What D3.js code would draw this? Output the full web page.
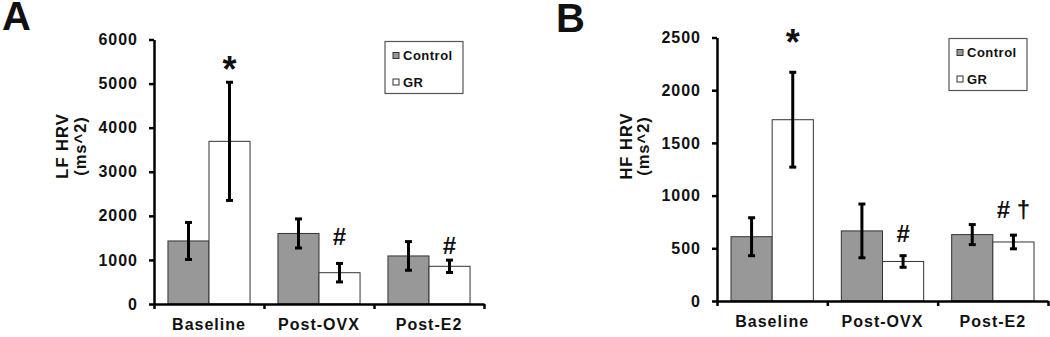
<!DOCTYPE html>
<html>
<head>
<meta charset="utf-8">
<script src="https://cdnjs.cloudflare.com/ajax/libs/d3/7.8.5/d3.min.js"></script>
<style>
  html, body { margin: 0; padding: 0; background: #fff; }
  svg text { font-family: Arial, "Liberation Sans", sans-serif; font-weight: bold; fill: #111; }
</style>
</head>
<body>
<div id="chart"></div>
<script>
// data
const categories = ['Baseline', 'Post-OVX', 'Post-E2'];
const seriesNames = ['Control', 'GR'];

const lfControl = [1430, 1600, 1090];
const lfControlErr = [420, 330, 325];
const lfGR = [3690, 710, 855];
const lfGRErr = [1340, 210, 140];
const lfTicks = [0, 1000, 2000, 3000, 4000, 5000, 6000];
const lfMarks = [
  { category: 'Baseline', series: 'GR', text: '*', value: 5040 },
  { category: 'Post-OVX', series: 'GR', text: '#', value: 1340 },
  { category: 'Post-E2', series: 'GR', text: '#', value: 1130 }
];

const hfControl = [610, 665, 630];
const hfControlErr = [180, 255, 95];
const hfGR = [1720, 375, 560];
const hfGRErr = [450, 55, 65];
const hfTicks = [0, 500, 1000, 1500, 2000, 2500];
const hfMarks = [
  { category: 'Baseline', series: 'GR', text: '*', value: 2330 },
  { category: 'Post-OVX', series: 'GR', text: '#', value: 563 },
  { category: 'Post-E2', series: 'GR', text: '# \u2020', value: 785 }
];

const colors = { Control: '#989898', GR: '#ffffff' };

let svg = d3.select('#chart').append('svg')
  .attr('width', 1050)
  .attr('height', 337);

function drawPanel(p) {
  let g = svg.append('g');

  let rows = [];
  for (let i = 0; i < categories.length; i++) {
    rows.push({ category: categories[i], series: 'Control', value: p.control[i], err: p.controlErr[i] });
    rows.push({ category: categories[i], series: 'GR', value: p.gr[i], err: p.grErr[i] });
  }

  let x = d3.scaleBand().domain(categories).range([p.left, p.right]);
  let xs = d3.scaleBand().domain(seriesNames).range([0, x.bandwidth()]).paddingOuter(0.34);
  let y = d3.scaleLinear().domain([0, p.ticks[p.ticks.length - 1]]).range([p.bottom, p.top]);

  // bars
  g.selectAll('rect.bar')
    .data(rows)
    .enter()
    .append('rect')
    .attr('class', 'bar')
    .attr('x', d => x(d.category) + xs(d.series))
    .attr('width', xs.bandwidth())
    .attr('y', d => y(d.value))
    .attr('height', d => y(0) - y(d.value))
    .attr('fill', d => colors[d.series])
    .attr('stroke', '#333')
    .attr('stroke-width', 1);

  // error bars
  let eb = g.selectAll('g.err')
    .data(rows)
    .enter()
    .append('g')
    .attr('class', 'err')
    .attr('transform', d => 'translate(' + (x(d.category) + xs(d.series) + xs.bandwidth() / 2) + ',0)');
  eb.append('line')
    .attr('y1', d => y(d.value + d.err))
    .attr('y2', d => y(d.value - d.err));
  eb.append('line')
    .attr('x1', -3.5).attr('x2', 3.5)
    .attr('y1', d => y(d.value + d.err))
    .attr('y2', d => y(d.value + d.err));
  eb.append('line')
    .attr('x1', -3.5).attr('x2', 3.5)
    .attr('y1', d => y(d.value - d.err))
    .attr('y2', d => y(d.value - d.err));
  eb.selectAll('line').attr('stroke', '#000').attr('stroke-width', 3);

  // y axis
  let yAxis = g.append('g')
    .attr('transform', 'translate(' + p.left + ',0)')
    .call(d3.axisLeft(y).tickValues(p.ticks).tickFormat(d3.format('d')).tickSize(5).tickSizeOuter(0).tickPadding(11));
  yAxis.selectAll('text').style('font-size', '16px').style('letter-spacing', '1px');

  // x axis: boundary ticks + centred labels
  let xEdge = d3.scaleLinear().domain([0, categories.length]).range([p.left, p.right]);
  g.append('g')
    .attr('transform', 'translate(0,' + p.bottom + ')')
    .call(d3.axisBottom(xEdge).tickValues(d3.range(categories.length + 1)).tickFormat('').tickSize(5).tickSizeOuter(0));
  let xLabels = g.append('g')
    .attr('transform', 'translate(0,' + p.bottom + ')')
    .call(d3.axisBottom(x).tickSize(0).tickPadding(15));
  xLabels.select('.domain').remove();
  xLabels.selectAll('text').style('font-size', '16px').style('letter-spacing', '1px');

  g.selectAll('.domain, .tick line').attr('stroke', '#000').attr('stroke-width', 2.5);

  // axis title
  let title = g.append('text')
    .attr('transform', 'translate(' + p.titleX + ',' + p.titleY + ') rotate(-90)')
    .attr('text-anchor', 'middle')
    .style('font-size', '16.5px')
    .style('letter-spacing', '1px');
  title.append('tspan').attr('x', 0).attr('y', 0).text(p.title);
  title.append('tspan').attr('x', 0).attr('y', 17.5).text('(ms^2)');

  // significance marks
  g.selectAll('text.mark')
    .data(p.marks)
    .enter()
    .append('text')
    .attr('class', 'mark')
    .attr('x', d => x(d.category) + xs(d.series) + xs.bandwidth() / 2)
    .attr('y', d => y(d.value))
    .attr('text-anchor', 'middle')
    .style('font-size', d => d.text == '*' ? '36px' : '24px')
    .text(d => d.text);

  // panel letter
  g.append('text')
    .attr('x', p.letterX)
    .attr('y', p.letterY)
    .style('font-size', '40px')
    .text(p.letter);

  // legend
  let lg = g.append('g').attr('transform', 'translate(' + p.legendX + ',' + p.legendY + ')');
  lg.append('rect')
    .attr('width', 78).attr('height', 52)
    .attr('fill', '#fff')
    .attr('stroke', '#555')
    .attr('stroke-width', 1.2);
  let items = lg.selectAll('g.item')
    .data(seriesNames)
    .enter()
    .append('g')
    .attr('transform', (d, i) => 'translate(8,' + (11 + i * 26.5) + ')');
  items.append('rect')
    .attr('width', 6).attr('height', 6)
    .attr('fill', d => colors[d])
    .attr('stroke', '#333')
    .attr('stroke-width', 1);
  items.append('text')
    .attr('x', 10)
    .attr('y', 7.5)
    .style('font-size', '13px')
    .style('letter-spacing', '0.5px')
    .text(d => d);
}

drawPanel({
  control: lfControl, controlErr: lfControlErr, gr: lfGR, grErr: lfGRErr,
  ticks: lfTicks, marks: lfMarks, title: 'LF HRV',
  left: 154, right: 484, top: 39.5, bottom: 304,
  titleX: 68, titleY: 146, letter: 'A', letterX: 2, letterY: 30,
  legendX: 385, legendY: 41.5
});

drawPanel({
  control: hfControl, controlErr: hfControlErr, gr: hfGR, grErr: hfGRErr,
  ticks: hfTicks, marks: hfMarks, title: 'HF HRV',
  left: 717, right: 1048, top: 37.5, bottom: 301,
  titleX: 631.5, titleY: 146, letter: 'B', letterX: 556, letterY: 31.5,
  legendX: 949, legendY: 38.5
});
</script>
</body>
</html>
